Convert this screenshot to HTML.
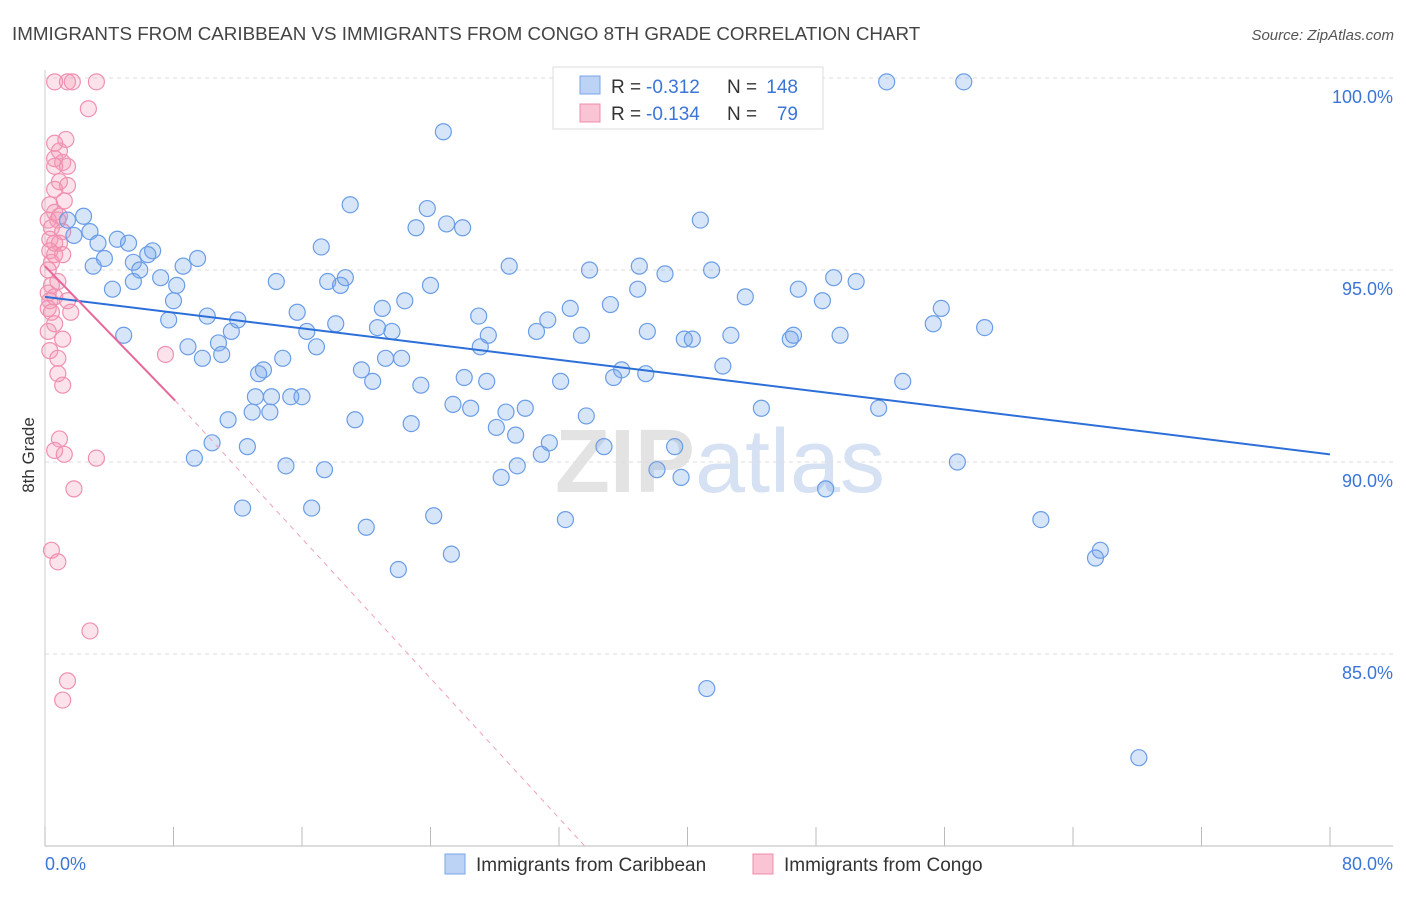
<!DOCTYPE html>
<html><head><meta charset="utf-8"><style>
body{margin:0;background:#fff;font-family:"Liberation Sans",sans-serif}
svg text{font-family:"Liberation Sans",sans-serif}
</style></head><body>
<svg id="chart" width="1406" height="892" xmlns="http://www.w3.org/2000/svg">
<text x="12" y="40" font-size="18.8" fill="#444">IMMIGRANTS FROM CARIBBEAN VS IMMIGRANTS FROM CONGO 8TH GRADE CORRELATION CHART</text>
<text x="1394" y="40" font-size="15" fill="#555" text-anchor="end" font-style="italic">Source: ZipAtlas.com</text>
<text x="720" y="492" font-size="90" text-anchor="middle" fill="#e3e3e3" font-weight="bold">ZIP<tspan fill="#d6e2f4" font-weight="normal">atlas</tspan></text>
<g id="grid"></g><g id="axes"></g><g id="pinkPts"></g><g id="bluePts"></g><g id="trends"></g>
<text transform="translate(34,455) rotate(-90)" font-size="17" fill="#333" text-anchor="middle">8th Grade</text>
<g>
<rect x="553" y="67" width="270" height="62" fill="#fff" stroke="#ddd"/>
<rect x="580" y="76" width="20" height="18" fill="#bcd3f5" stroke="#7aa6e8"/>
<rect x="580" y="104" width="20" height="18" fill="#f9c4d4" stroke="#f08cab"/>
<text x="611" y="93" font-size="19" fill="#333">R =</text>
<text x="646" y="93" font-size="19" fill="#3b75d6">-0.312</text>
<text x="727" y="93" font-size="19" fill="#333">N =</text>
<text x="798" y="93" font-size="19" fill="#3b75d6" text-anchor="end">148</text>
<text x="611" y="120" font-size="19" fill="#333">R =</text>
<text x="646" y="120" font-size="19" fill="#3b75d6">-0.134</text>
<text x="727" y="120" font-size="19" fill="#333">N =</text>
<text x="798" y="120" font-size="19" fill="#3b75d6" text-anchor="end">79</text>
</g>
<g>
<rect x="445" y="854" width="20" height="20" fill="#bcd3f5" stroke="#7aa6e8"/>
<text x="476" y="871" font-size="19" fill="#333">Immigrants from Caribbean</text>
<rect x="753" y="854" width="20" height="20" fill="#f9c4d4" stroke="#f08cab"/>
<text x="784" y="871" font-size="19" fill="#333">Immigrants from Congo</text>
</g>
</svg>
<script>
const blueX=[52.4,57.2,24.8,19.0,23.8,40.8,23.1,25.0,26.0,2.4,1.4,1.8,2.8,3.3,4.5,5.2,6.7,6.4,3.7,3.0,5.5,9.5,8.6,17.2,28.9,33.9,37.0,38.6,41.5,49.1,50.5,5.9,7.2,4.2,5.5,8.2,8.0,14.4,17.6,18.4,18.7,24.0,36.9,43.6,46.9,48.4,55.8,21.0,22.4,15.7,7.7,10.1,12.0,27.0,31.3,32.7,35.2,55.3,58.5,4.9,11.6,18.1,16.3,20.7,21.6,27.6,30.6,33.4,37.5,42.7,39.8,40.3,46.4,46.6,49.5,8.9,10.8,9.8,11.0,16.9,27.1,21.2,22.2,35.9,37.4,42.2,13.6,13.3,14.8,19.7,20.4,23.4,26.1,27.5,32.1,35.4,53.4,13.1,14.1,15.3,16.0,11.4,12.9,14.0,19.3,25.4,26.5,29.9,28.7,33.7,44.6,51.9,10.4,12.6,22.8,28.1,29.3,31.4,30.9,34.8,39.2,9.3,15.0,17.4,29.4,28.4,38.1,39.6,56.8,48.6,12.3,16.6,24.2,20.0,32.4,62.0,25.3,22.0,65.7,65.4,41.2,68.1];
const blueY=[99.9,99.9,98.6,96.7,96.6,96.3,96.1,96.2,96.1,96.4,96.3,95.9,96.0,95.7,95.8,95.7,95.5,95.4,95.3,95.1,95.2,95.3,95.1,95.6,95.1,95.0,95.1,94.9,95.0,94.8,94.7,95.0,94.8,94.5,94.7,94.6,94.2,94.7,94.7,94.6,94.8,94.6,94.5,94.3,94.5,94.2,94.0,94.0,94.2,93.9,93.7,93.8,93.7,93.8,93.7,94.0,94.1,93.6,93.5,93.3,93.4,93.6,93.4,93.5,93.4,93.3,93.4,93.3,93.4,93.3,93.2,93.2,93.2,93.3,93.3,93.0,93.1,92.7,92.8,93.0,93.0,92.7,92.7,92.4,92.3,92.5,92.4,92.3,92.7,92.4,92.1,92.0,92.2,92.1,92.1,92.2,92.1,91.7,91.7,91.7,91.7,91.1,91.3,91.3,91.1,91.5,91.4,91.4,91.3,91.2,91.4,91.4,90.5,90.4,91.0,90.9,90.7,90.5,90.2,90.4,90.4,90.1,89.9,89.8,89.9,89.6,89.8,89.6,90.0,89.3,88.8,88.8,88.6,88.3,88.5,88.5,87.6,87.2,87.7,87.5,84.1,82.3];
const pinkX=[0.6,1.4,1.7,3.2,2.7,1.3,0.6,0.9,0.6,1.1,1.4,0.6,0.9,1.4,0.6,1.2,0.3,0.6,0.9,0.2,0.8,0.4,1.1,0.3,0.6,0.9,0.3,0.6,1.1,0.4,0.2,0.8,0.4,0.2,0.6,0.3,1.4,0.2,0.4,1.6,0.6,0.2,1.1,0.3,0.8,0.8,1.1,7.5,0.9,0.6,1.2,3.2,1.8,0.4,0.8,2.8,1.4,1.1];
const pinkY=[99.9,99.9,99.9,99.9,99.2,98.4,98.3,98.1,97.9,97.8,97.7,97.7,97.3,97.2,97.1,96.8,96.7,96.5,96.4,96.3,96.3,96.1,96.0,95.8,95.7,95.7,95.5,95.4,95.4,95.2,95.0,94.7,94.6,94.4,94.3,94.2,94.2,94.0,93.9,93.9,93.6,93.4,93.2,92.9,92.7,92.3,92.0,92.8,90.6,90.3,90.2,90.1,89.3,87.7,87.4,85.6,84.3,83.8];
const blueTrend=[[0,94.3],[80,90.2]];
const pinkTrendSolid=[[0,95.1],[8.1,91.6]];
const pinkTrendDash=[[8.1,91.6],[33.6,80.0]];
const xTicks=[0,10,20,30,40,50,60,70,80];
const yTicks=[85,90,95,100];
const NS="http://www.w3.org/2000/svg";
const X=v=>45+v/80*1285;
const Y=v=>846-(v-80)/20*768;
function mk(tag,attrs,parent){const e=document.createElementNS(NS,tag);for(const k in attrs)e.setAttribute(k,attrs[k]);document.getElementById(parent).appendChild(e);return e;}
yTicks.forEach(t=>{
 const l=mk('line',{x1:45,x2:1393,y1:Y(t),y2:Y(t),stroke:'#ddd','stroke-dasharray':'4,4'},'grid');
 
 
 const tx=mk('text',{x:1393,y:Y(t)+25,'font-size':18,fill:'#3b75d6','text-anchor':'end'},'axes');
 tx.textContent=t.toFixed(1)+'%';
 
 
});
const ax=mk('line',{x1:45,x2:1393,y1:846,y2:846,stroke:'#bbb'},'axes');


const ay=mk('line',{x1:45,x2:45,y1:70,y2:846,stroke:'#ccc'},'axes');


for(let i=0;i<=10;i++){
 const t=mk('line',{x1:X(i*8),x2:X(i*8),y1:827,y2:846,stroke:'#bbb'},'axes');
 
 
}
[[0,'start',45],[80,'end',1393]].forEach(([v,a,px])=>{
 const tx=mk('text',{x:px,y:870,'font-size':18,fill:'#3b75d6','text-anchor':a},'axes');
 tx.textContent=v.toFixed(1)+'%';
 
 
});
pinkX.forEach((v,i)=>{
 const c=mk('circle',{cx:X(v),cy:Y(pinkY[i]),r:8,fill:'rgba(245,150,180,0.28)',stroke:'#f090b0','stroke-width':1.2},'pinkPts');
 
 
});
blueX.forEach((v,i)=>{
 const c=mk('circle',{cx:X(v),cy:Y(blueY[i]),r:8,fill:'rgba(110,160,235,0.28)',stroke:'#6b9de6','stroke-width':1.2},'bluePts');
 
 
});
function tl(d,col,w,dash,name){
 const l=mk('line',{x1:X(d[0][0]),y1:Y(d[0][1]),x2:X(d[1][0]),y2:Y(d[1][1]),stroke:col,'stroke-width':w},'trends');
 if(dash)l.setAttribute('stroke-dasharray',dash);
 
 
}
tl(blueTrend,'#2d6fd8',2,null,'caribbean-trend-line');
tl(pinkTrendSolid,'#e8679a',2,null,'congo-trend-line');
tl(pinkTrendDash,'#f0a0bd',1,'5,5','congo-trend-extension');
</script>
</body></html>
